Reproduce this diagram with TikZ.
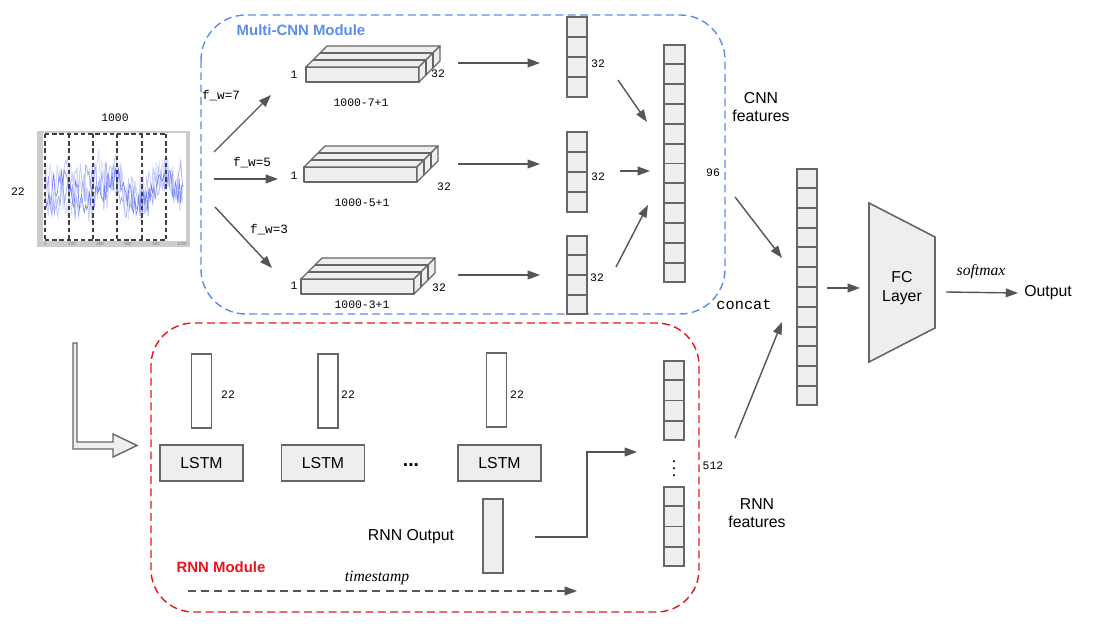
\documentclass[tikz,border=0pt]{standalone}
\usepackage{fontspec}
\setmainfont{Liberation Serif}
\setsansfont{Liberation Sans}
\setmonofont{Liberation Mono}
\usetikzlibrary{arrows.meta,calc}

\definecolor{linegray}{HTML}{666666}
\definecolor{cellgray}{HTML}{EEEEEE}
\definecolor{arrgray}{HTML}{555555}
\definecolor{cnnblue}{HTML}{5B8DEA}
\definecolor{rnnred}{HTML}{E8141C}
\definecolor{sigblue}{HTML}{3348F0}

% feature map as three slabs: #1 = front top-left corner, #2 = name
\newcommand{\featmap}[2]{%
  \path #1 coordinate (#2);
  \draw[boxline] (#2) rectangle ++(113,15);
  \draw[boxline] (#2) -- ++(21,-21) -- ++(113,0) -- ++(-21,21) -- cycle;
  \draw[boxline] ($(#2)+(113,0)$) -- ++(21,-21) -- ++(0,15) -- ++(-21,21) -- cycle;
  \draw[boxline, fill=none] ($(#2)+(7,-7)$) -- ++(113,0) -- ++(0,15);
  \draw[boxline, fill=none] ($(#2)+(14,-14)$) -- ++(113,0) -- ++(0,15);
}

\begin{document}
\begin{tikzpicture}[x=0.02cm, y=-0.02cm,
  boxline/.style={draw=linegray, fill=cellgray, line width=0.8pt, line join=round},
  cellbar/.style={draw=linegray, fill=cellgray, line width=0.9pt, inner sep=0pt, minimum width=0.4cm},
  inbar/.style={draw=linegray, fill=white, line width=0.9pt, inner sep=0pt, minimum width=0.4cm, minimum height=1.48cm},
  cellline/.style={draw=linegray, line width=1.1pt},
  lstmbox/.style={draw=linegray, fill=cellgray, line width=0.9pt, minimum width=1.66cm, minimum height=0.72cm, font=\sffamily\fontsize{9}{10}\selectfont},
  arr/.style={-{Triangle[length=7pt,width=5pt]}, draw=arrgray, line width=0.8pt},
  mono/.style={font=\ttfamily\fontsize{6.5}{7}\selectfont},
  fwlabel/.style={font=\ttfamily\fontsize{7.2}{8}\selectfont},
  lbl/.style={font=\sffamily\fontsize{9}{10.5}\selectfont, align=center},
  itlbl/.style={font=\itshape\fontsize{8.9}{10}\selectfont},
  ticklbl/.style={font=\sffamily\fontsize{2.5}{3}\selectfont, text=gray, inner sep=0pt},
]
\useasboundingbox (0,0) rectangle (1093,638);

% --- Input signal ---
\fill[gray!40] (37,131) rectangle (190,247);
\fill[white] (43,133) rectangle (186,241);
\pgfmathsetseed{31}
\begin{scope}
  \clip (43,134) rectangle (186,241);
  \draw[sigblue!18, line width=0.5pt] plot[domain=45:183, samples=140] (\x,{186 + 14*sin(6*\x) + 8*sin(17*\x+30) + 20*rand});
  \draw[sigblue!28, line width=0.45pt] plot[domain=45:183, samples=130] (\x,{190 + 15*sin(8*\x+60) + 7*sin(21*\x) + 18*rand});
  \draw[sigblue!45, line width=0.4pt] plot[domain=45:183, samples=120] (\x,{188 + 12*sin(5*\x+120) + 8*sin(15*\x+10) + 17*rand});
  \draw[sigblue!70, line width=0.35pt] plot[domain=45:183, samples=110] (\x,{192 + 10*sin(7*\x+200) + 16*rand});
\end{scope}
\draw[black!75, line width=1pt, dash pattern=on 2.5pt off 1.6pt] (45,134) -- (166,134) (45,240) -- (166,240);
\foreach \xv in {45,69,93,117,142,166}
  \draw[black!75, line width=1pt, dash pattern=on 2.5pt off 1.6pt] (\xv,134) -- (\xv,240);
\foreach \xv/\t in {45/0,72/200,100/400,128/600,156/800,182/1000}
  \node[ticklbl] at (\xv,244) {\t};
\node[mono] (len) at (115,118) {1000};
\node[mono] (chn) at (18,192) {22};

% --- Multi-CNN module ---
\draw[cnnblue, line width=0.8pt, dash pattern=on 4.5pt off 2.5pt, rounded corners=0.9cm] (201,15) rectangle (725,314);
\node[font=\sffamily\bfseries\fontsize{8.5}{10}\selectfont, text=cnnblue] (cnntitle) at (301,30) {Multi-CNN Module};

\featmap{(306,67)}{fmA}
\featmap{(304,167)}{fmB}
\featmap{(301,279)}{fmC}

\node[mono] (oneA) at (294,75) {1};
\node[mono] (oneB) at (294,176) {1};
\node[mono] (oneC) at (294,286) {1};
\node[mono] (chA) at (438,74) {32};
\node[mono] (chB) at (444,187) {32};
\node[mono] (chC) at (439,288) {32};
\node[mono] (dimA) at (361,103) {1000-7+1};
\node[mono] (dimB) at (362,203) {1000-5+1};
\node[mono] (dimC) at (362,305) {1000-3+1};

\coordinate (sigA) at (214,152);
\coordinate (sigB) at (214,179);
\coordinate (sigC) at (215,207);
\draw[arr] (sigA) -- (271,95);
\draw[arr] (sigB) -- (278,179);
\draw[arr] (sigC) -- (272,268);
\node[fwlabel] (fwA) at (221,96) {f\_w=7};
\node[fwlabel] (fwB) at (252,163) {f\_w=5};
\node[fwlabel] (fwC) at (269,230) {f\_w=3};

% small 32 vectors
\node[cellbar, minimum height=1.6cm] (vecA) at (577,57) {};
\node[cellbar, minimum height=1.6cm] (vecB) at (577,172) {};
\node[cellbar, minimum height=1.56cm] (vecC) at (577,275) {};
\foreach \v in {vecA,vecB,vecC}
  \foreach \i in {1,2,3}
    \draw[cellline] ($(\v.north west)!\i/4!(\v.south west)$) -- ($(\v.north east)!\i/4!(\v.south east)$);
\node[mono] (nA) at (598,64) {32};
\node[mono] (nB) at (598,177) {32};
\node[mono] (nC) at (597,278) {32};

\draw[arr] (458,63) -- (540,63);
\draw[arr] (458,164) -- (540,164);
\draw[arr] (458,275) -- (540,275);

% 96 CNN features
\node[cellbar, minimum width=0.42cm, minimum height=4.74cm] (cnnf) at (674.5,163.5) {};
\foreach \i in {1,...,11}
  \draw[cellline] ($(cnnf.north west)!\i/12!(cnnf.south west)$) -- ($(cnnf.north east)!\i/12!(cnnf.south east)$);
\node[mono] (n96) at (713,173) {96};
\draw[arr] (618,80) -- (647,122);
\draw[arr] (620,171) -- (650,171);
\draw[arr] (616,267) -- (648,205);
\node[lbl] (cnnlbl) at (761,107) {CNN\\features};

% --- RNN module ---
\draw[rnnred, line width=0.8pt, dash pattern=on 4.5pt off 2.5pt, rounded corners=0.85cm] (151,323) rectangle (699,612);
\node[font=\sffamily\bfseries\fontsize{8.5}{10}\selectfont, text=rnnred] (rnntitle) at (221,567) {RNN Module};

\draw[draw=linegray, fill=cellgray, line width=0.8pt, line join=miter]
  (73,343) -- (77,343) -- (77,442) -- (113,442) -- (113,434) -- (137,445.5)
  -- (113,457) -- (113,449) -- (73,449) -- cycle;

\node[inbar] (inA) at (201.5,391) {};
\node[inbar] (inB) at (328,391) {};
\node[inbar] (inC) at (496.5,390) {};
\node[mono] (kA) at (228,395) {22};
\node[mono] (kB) at (348,395) {22};
\node[mono] (kC) at (517,395) {22};

\node[lstmbox] (lstmA) at (201.5,463) {LSTM};
\node[lstmbox] (lstmB) at (323,463) {LSTM};
\node[lstmbox] (lstmC) at (499.5,463) {LSTM};
\node[font=\sffamily\bfseries\fontsize{11}{12}\selectfont, anchor=base] (etc) at (411,467) {...};

\node[cellbar, minimum height=1.48cm] (rout) at (493,536) {};
\node[lbl] (routlbl) at (411,537) {RNN Output};
\coordinate (routend) at (535,537);
\draw[arr] (routend) -| (587,452) -- (637,452);

% 512 RNN features
\node[cellbar, minimum height=1.58cm] (rtop) at (674,400.5) {};
\node[cellbar, minimum height=1.58cm] (rbot) at (674,526.5) {};
\foreach \v in {rtop,rbot}
  \foreach \i in {1,2,3}
    \draw[cellline] ($(\v.north west)!\i/4!(\v.south west)$) -- ($(\v.north east)!\i/4!(\v.south east)$);
\node[font=\fontsize{10}{10}\selectfont, inner sep=0pt] (vdots) at (674,463) {$\vdots$};
\node[mono] (n512) at (713,466) {512};
\node[lbl] (rnnlbl) at (757,513) {RNN\\features};

\draw[arrgray, line width=0.8pt, dash pattern=on 4.5pt off 3pt, -{Triangle[length=7pt,width=5pt]}] (188,591) -- (577,591);
\node[itlbl] (ts) at (377,578) {timestamp};

% --- concat and output ---
\node[cellbar, minimum width=0.4cm, minimum height=4.72cm] (cat) at (807,287) {};
\foreach \i in {1,...,11}
  \draw[cellline] ($(cat.north west)!\i/12!(cat.south west)$) -- ($(cat.north east)!\i/12!(cat.south east)$);
\node[font=\ttfamily\fontsize{8.7}{10}\selectfont] (catlbl) at (744,304) {concat};
\draw[arr] (735,197) -- (782,258);
\draw[arr] (735,438) -- (782,322);

\draw[draw=linegray, fill=cellgray, line width=0.9pt] (869,203) -- (935,237) -- (935,328) -- (869,362) -- cycle;
\node[lbl, font=\sffamily\fontsize{9}{11}\selectfont] (fc) at (902,288) {FC\\Layer};
\draw[arr] (827,288) -- (860,288);
\node[lbl] (out) at (1048,293) {Output};
\draw[arr] (946,292) -- (out.west);
\node[itlbl] (smax) at (981,272) {softmax};

\end{tikzpicture}
\end{document}
